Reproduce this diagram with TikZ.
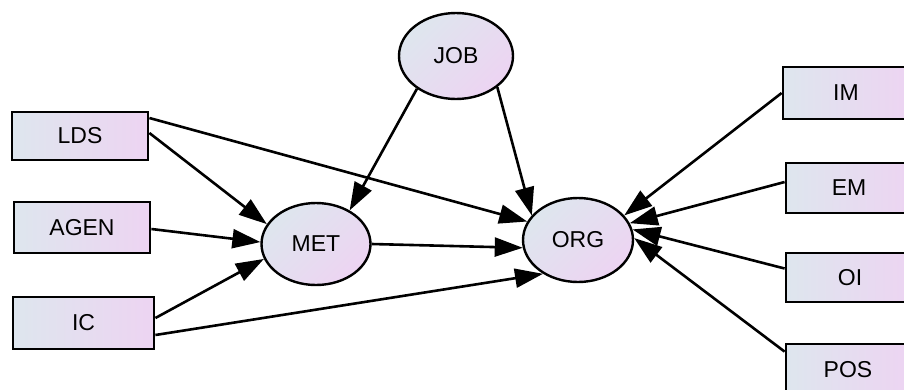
\documentclass[tikz,border=0pt]{standalone}
\usepackage{fontspec}
\setmainfont{Liberation Sans}
\usetikzlibrary{arrows.meta,shapes.geometric}

\definecolor{shadeL}{RGB}{222,230,238}
\definecolor{shadeR}{RGB}{237,212,242}

\tikzset{
  varbox/.style={draw=black, line width=2.8pt, rectangle, inner sep=0pt,
    left color=shadeL, right color=shadeR,
    minimum width=136pt, minimum height=50pt,
    font=\fontsize{23}{27}\selectfont},
  latent/.style={draw=black, line width=2.4pt, ellipse, inner sep=0pt,
    left color=shadeL, right color=shadeR, shading angle=45,
    font=\fontsize{23}{27}\selectfont},
  path/.style={draw=black, line width=2.6pt,
    -{Triangle[length=28pt, width=19pt]}},
}

\begin{document}
\begin{tikzpicture}[x=1pt, y=-1pt]
  \useasboundingbox (0,0) rectangle (904,389);

  % observed predictors on the left
  \node[varbox, minimum height=48pt] (LDS) at (80,136) {LDS};
  \node[varbox, minimum height=51pt] (AGEN) at (82,227.5) {AGEN};
  \node[varbox, minimum width=141pt, minimum height=52pt] (IC) at (83.5,323) {IC};

  % latent constructs
  \node[latent, minimum width=114pt, minimum height=86pt] (JOB) at (456,56) {JOB};
  \node[latent, minimum width=109pt, minimum height=82pt] (MET) at (316,244) {MET};
  \node[latent, minimum width=110pt, minimum height=84pt] (ORG) at (578,240) {ORG};

  % observed predictors on the right
  \node[varbox, minimum width=126pt, minimum height=52pt] (IM) at (846,93) {IM};
  \node[varbox, minimum width=126pt, minimum height=50pt] (EM) at (849,188) {EM};
  \node[varbox, minimum width=128pt, minimum height=49pt] (OI) at (850,277.5) {OI};
  \node[varbox, minimum width=124pt, minimum height=52pt] (POS) at (848,370) {POS};

  % paths into MET
  \draw[path] ([yshift=3pt]LDS.east) -- (MET.158);
  \draw[path] ([yshift=-1.5pt]AGEN.east) -- (MET.178);
  \draw[path] ([yshift=5pt]IC.east) -- (MET.196);
  \draw[path] (JOB.220) -- (MET.45);

  % paths into ORG
  \draw[path] ([yshift=18pt]LDS.east) -- (ORG.160);
  \draw[path] ([yshift=-12pt]IC.east) -- (ORG.224);
  \draw[path] (MET.east) -- (ORG.188);
  \draw[path] (JOB.323) -- (ORG.152);
  \draw[path] (IM.west) -- (ORG.28);
  \draw[path] ([yshift=6pt]EM.west) -- (ORG.18);
  \draw[path] ([yshift=9pt]OI.west) -- (ORG.11);
  \draw[path] ([yshift=-9pt]POS.north west) -- (ORG.2);
\end{tikzpicture}
\end{document}
